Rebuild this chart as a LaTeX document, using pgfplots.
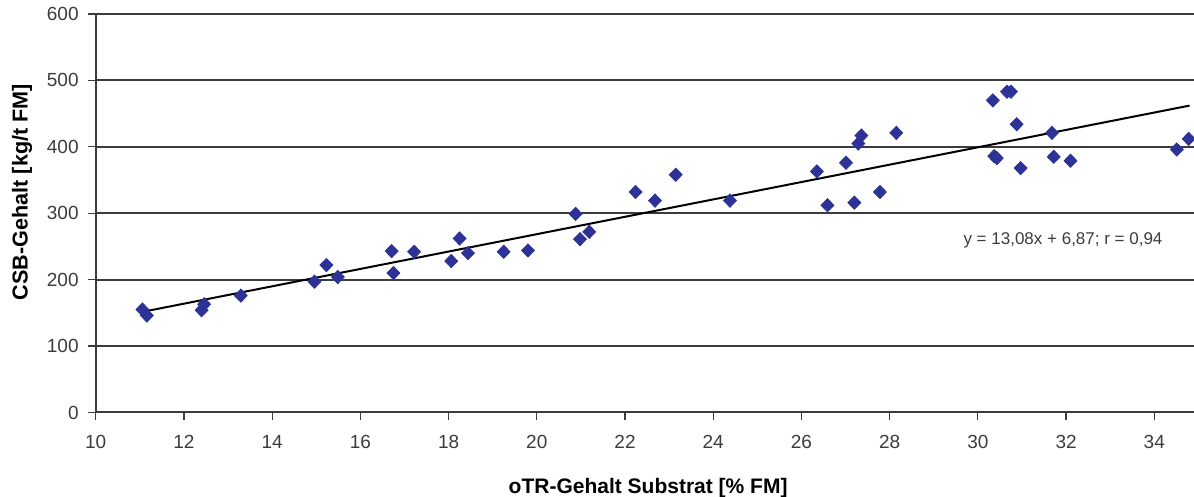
\documentclass[border=0pt]{standalone}
\usepackage{pgfplots}
\pgfplotsset{compat=1.18}
\usepackage{fontspec}
\setmainfont{Liberation Sans}
\definecolor{pts}{RGB}{45,50,150}
\definecolor{gridc}{RGB}{60,60,60}
\definecolor{tickc}{RGB}{60,60,60}
\begin{document}
\begin{tikzpicture}
\begin{axis}[
  scale only axis,
  width=549.15pt, height=199.25pt,
  xmin=10, xmax=34.9, ymin=0, ymax=600,
  axis x line=bottom, axis y line=left,
  axis line style={-, gridc, line width=1pt},
  xtick={10,12,...,34}, ytick={0,100,...,600},
  ymajorgrids, major grid style={gridc, line width=1pt},
  tick align=outside, major tick length=4pt,
  tick style={gridc, line width=0.6pt},
  /pgf/number format/assume math mode=true,
  ticklabel style={font=\fontsize{9.5}{10}\selectfont, text=tickc},
  xticklabel style={yshift=-4pt},
  yticklabel style={xshift=-1pt},
  xlabel={\bfseries oTR-Gehalt Substrat [\% FM]},
  xlabel style={at={(axis description cs:0.503,-0.1895)}, anchor=center, font=\fontsize{10.5}{12}\selectfont},
  ylabel={\bfseries CSB-Gehalt [kg/t FM]},
  ylabel style={at={(axis description cs:-0.0671,0.553)}, anchor=center, rotate=0, font=\fontsize{10.8}{12}\selectfont},
  clip=false,
]
\addplot[only marks, mark=diamond*, mark size=3.3pt, mark options={fill=pts, draw=pts, xscale=1.3}] coordinates {
(11.06,155) (11.16,146) (12.40,154) (12.46,163) (13.29,176) (14.96,197)
(15.23,222) (15.49,204) (16.71,243) (16.75,210) (17.22,242) (18.06,228)
(18.25,262) (18.44,240) (19.25,242) (19.80,244) (20.88,299) (20.98,261)
(21.19,272) (22.24,332) (22.68,319) (23.15,358) (24.38,319) (26.35,363)
(26.59,312) (27.01,376) (27.20,316) (27.29,405) (27.36,417) (27.78,332)
(28.15,421) (30.34,470) (30.37,386) (30.43,383) (30.66,483) (30.75,483)
(30.88,434) (30.97,368) (31.68,421) (31.72,385) (32.10,379) (34.51,396)
(34.78,412)
};
\addplot[black, line width=1pt] coordinates {(11.05,151.4) (34.8,462.1)};
\node[font=\fontsize{8.5}{10}\selectfont, text=tickc] at (axis cs:31.93,258.7) {y = 13,08x + 6,87; r = 0,94};
\end{axis}
\pgfresetboundingbox
\path[use as bounding box] (-47.85pt,-42.25pt) rectangle (549.15pt,206.25pt);
\end{tikzpicture}
\end{document}
